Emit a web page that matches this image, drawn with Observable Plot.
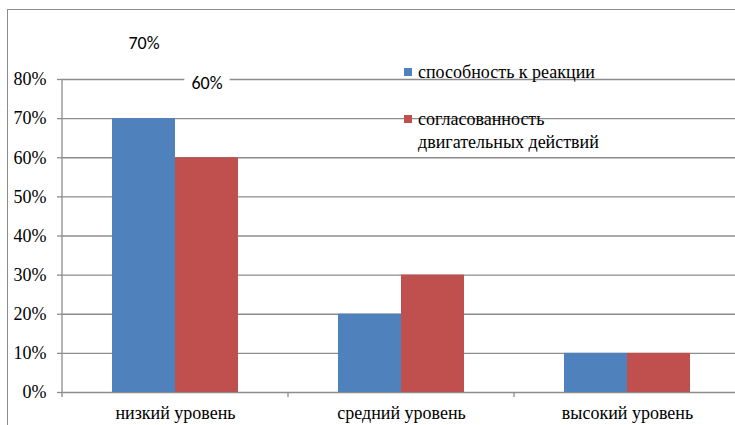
<!DOCTYPE html>
<html>
<head>
<meta charset="utf-8">
<script src="https://cdn.jsdelivr.net/npm/d3@7"></script>
<script src="https://cdn.jsdelivr.net/npm/@observablehq/plot@0.6"></script>
<style>
  html, body { margin: 0; padding: 0; background: white; overflow: hidden; }
  #wrap { position: relative; width: 735px; height: 425px; overflow: hidden; }
  #chart { position: absolute; left: 0; top: 0; }
  #border { position: absolute; left: 7px; top: 9px; width: 900px; height: 600px;
            border: 1.5px solid #8c8c8c; pointer-events: none; }
  #legend { position: absolute; left: 404px; top: 61px; width: 205px;
            font-size: 18px; line-height: 23px; color: #000; }
  .item { display: flex; align-items: flex-start; }
  .item + .item { margin-top: 24px; }
  .sw { flex: none; width: 8px; height: 8px; margin-top: 7px; margin-right: 6px; }
</style>
</head>
<body>
<div id="wrap">
  <div id="chart"></div>
  <div id="legend"></div>
  <div id="border"></div>
</div>
<script>
const categories = ["низкий уровень", "средний уровень", "высокий уровень"];
const series = ["способность к реакции", "согласованность двигательных действий"];
const reaction = [0.7, 0.2, 0.1];
const coordination = [0.6, 0.3, 0.1];
const yTicks = [0, 0.1, 0.2, 0.3, 0.4, 0.5, 0.6, 0.7, 0.8];
const colors = ["#4F81BD", "#C0504D"];

const values = [reaction, coordination];
const data = [];
categories.forEach((c, i) => series.forEach((s, j) => data.push({category: c, series: s, value: values[j][i]})));

const gridColor = "#8c8c8c";
const pct = d3.format(".0%");
const SERIF = "'Liberation Serif', serif";
const LABEL = "'Carlito', 'Liberation Sans', sans-serif";
const setFont = (sel, f) => sel.each(function () { this.style.setProperty("font-family", f, "important"); });

const plot = Plot.plot({
  width: 742,
  height: 425,
  marginTop: 79,
  marginBottom: 33,
  marginLeft: 61,
  marginRight: 2,
  style: {background: "transparent", overflow: "visible", maxWidth: "none", color: "#000"},
  fx: {domain: categories, padding: 0},
  x: {domain: series, paddingInner: 0, paddingOuter: 0.77, axis: null},
  y: {domain: [0, 0.8]},
  color: {domain: series, range: colors},
  marks: [
    Plot.gridY(yTicks, {stroke: gridColor, strokeOpacity: 1, strokeWidth: 1.3}),
    Plot.barY(data, {fx: "category", x: "series", y: "value", fill: "series"}),
    Plot.text(data.filter(d => d.category === categories[0]), {
      fx: "category", x: "series", y: "value", text: d => pct(d.value), dy: -75,
      className: "lbl", fontSize: 18, fill: "#000",
      stroke: "white", strokeWidth: 18
    }),
    Plot.axisY(yTicks, {tickFormat: pct, tickSize: 5, tickPadding: 11, label: null,
      stroke: gridColor, strokeWidth: 1.3, fill: "#000", className: "serif", fontSize: 18}),
    Plot.axisFx({anchor: "bottom", tickSize: 0, tickPadding: 14, label: null, fill: "#000",
      className: "serif", fontSize: 18})
  ]
});

const svg = d3.select(plot);
setFont(svg.selectAll(".serif, .serif text"), SERIF);
setFont(svg.selectAll(".lbl, .lbl text"), LABEL);

// Y axis line and category boundary ticks from the plot's own scales
const y = plot.scale("y");
const fx = plot.scale("fx");
const g = svg.append("g").attr("stroke", gridColor).attr("stroke-width", 1.3);
const x0 = fx.apply(categories[0]);
g.append("line").attr("x1", x0).attr("x2", x0)
  .attr("y1", y.apply(0.8)).attr("y2", y.apply(0) + 5);
categories.forEach(c => {
  const xb = fx.apply(c) + fx.bandwidth;
  g.append("line").attr("x1", xb).attr("x2", xb)
    .attr("y1", y.apply(0)).attr("y2", y.apply(0) + 5);
});

document.getElementById("chart").appendChild(plot);

const legend = d3.select("#legend");
setFont(legend, SERIF);
series.forEach((s, j) => {
  const it = legend.append("div").attr("class", "item");
  it.append("div").attr("class", "sw").style("background", colors[j]);
  setFont(it.append("div").text(s), SERIF);
});
</script>
</body>
</html>
